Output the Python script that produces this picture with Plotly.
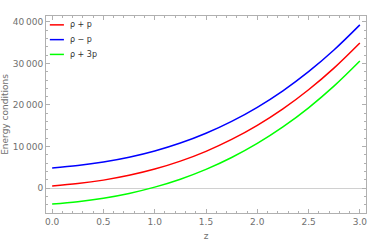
import plotly.graph_objects as go

z = [0.0, 0.25, 0.5, 0.75, 1.0, 1.25, 1.5, 1.75, 2.0, 2.25, 2.5, 2.75, 3.0]
rho_plus_p = [500, 1070, 1910, 3060, 4570, 6480, 8840, 11700, 15090, 19060, 23660, 28930, 34910]
rho_minus_p = [4850, 5420, 6260, 7410, 8920, 10830, 13190, 16050, 19440, 23410, 28010, 33280, 39260]
rho_plus_3p = [-3850, -3280, -2440, -1290, 220, 2130, 4490, 7350, 10740, 14710, 19310, 24580, 30560]

names = ["ρ + p", "ρ − p", "ρ + 3p"]
colors = ["#ff0000", "#0000ff", "#00ff00"]
series = [rho_plus_p, rho_minus_p, rho_plus_3p]

x_ticks = [0.0, 0.5, 1.0, 1.5, 2.0, 2.5, 3.0]
x_ticktext = ["0.0", "0.5", "1.0", "1.5", "2.0", "2.5", "3.0"]
y_ticks = [0, 10000, 20000, 30000, 40000]
y_ticktext = ["0", "10\u2009000", "20\u2009000", "30\u2009000", "40\u2009000"]

fig = go.Figure()
for name, col, vals in zip(names, colors, series):
    fig.add_trace(go.Scatter(x=z, y=vals, mode="lines", name=name, showlegend=False,
                             line=dict(color=col, width=1.5, shape="spline")))

# legend keys (manual, compact like the reference)
for i, (name, col) in enumerate(zip(names, colors)):
    yp = 0.955 - i * 0.075
    fig.add_shape(type="line", xref="paper", yref="paper", x0=0.012, x1=0.056, y0=yp, y1=yp,
                  line=dict(color=col, width=1.5))
    fig.add_annotation(xref="paper", yref="paper", x=0.068, y=yp, text=name, showarrow=False,
                       xanchor="left", yanchor="middle",
                       font=dict(family="DejaVu Sans", size=8, color="#333333"))

axis_common = dict(
    showgrid=False, showline=True, linecolor="#b0b0b0", linewidth=1, mirror="ticks",
    ticks="inside", ticklen=4, tickcolor="#b0b0b0", automargin=False,
    tickfont=dict(family="DejaVu Sans", size=9, color="#707070"),
)
fig.update_layout(
    width=382, height=243,
    margin=dict(l=46, r=16, t=16, b=30, autoexpand=False),
    paper_bgcolor="white", plot_bgcolor="white",
    showlegend=False,
    xaxis=dict(axis_common, range=[-0.06, 3.06], tickvals=x_ticks, ticktext=x_ticktext,
               zeroline=False,
               minor=dict(dtick=0.1, ticks="inside", ticklen=2, tickcolor="#b0b0b0"),
               title=dict(text="z", font=dict(family="DejaVu Sans", size=9, color="#707070"), standoff=6)),
    yaxis=dict(axis_common, range=[-6000, 41400], tickvals=y_ticks, ticktext=y_ticktext,
               zeroline=True, zerolinecolor="#d0d0d0", zerolinewidth=1,
               minor=dict(dtick=2000, ticks="inside", ticklen=2, tickcolor="#b0b0b0"),
               title=dict(text="Energy conditions", font=dict(family="DejaVu Sans", size=9, color="#707070"), standoff=4)),
)
fig.write_html("out.html", config={"displayModeBar": False},
               post_script="document.body.style.margin='0';document.body.style.overflow='hidden';")
